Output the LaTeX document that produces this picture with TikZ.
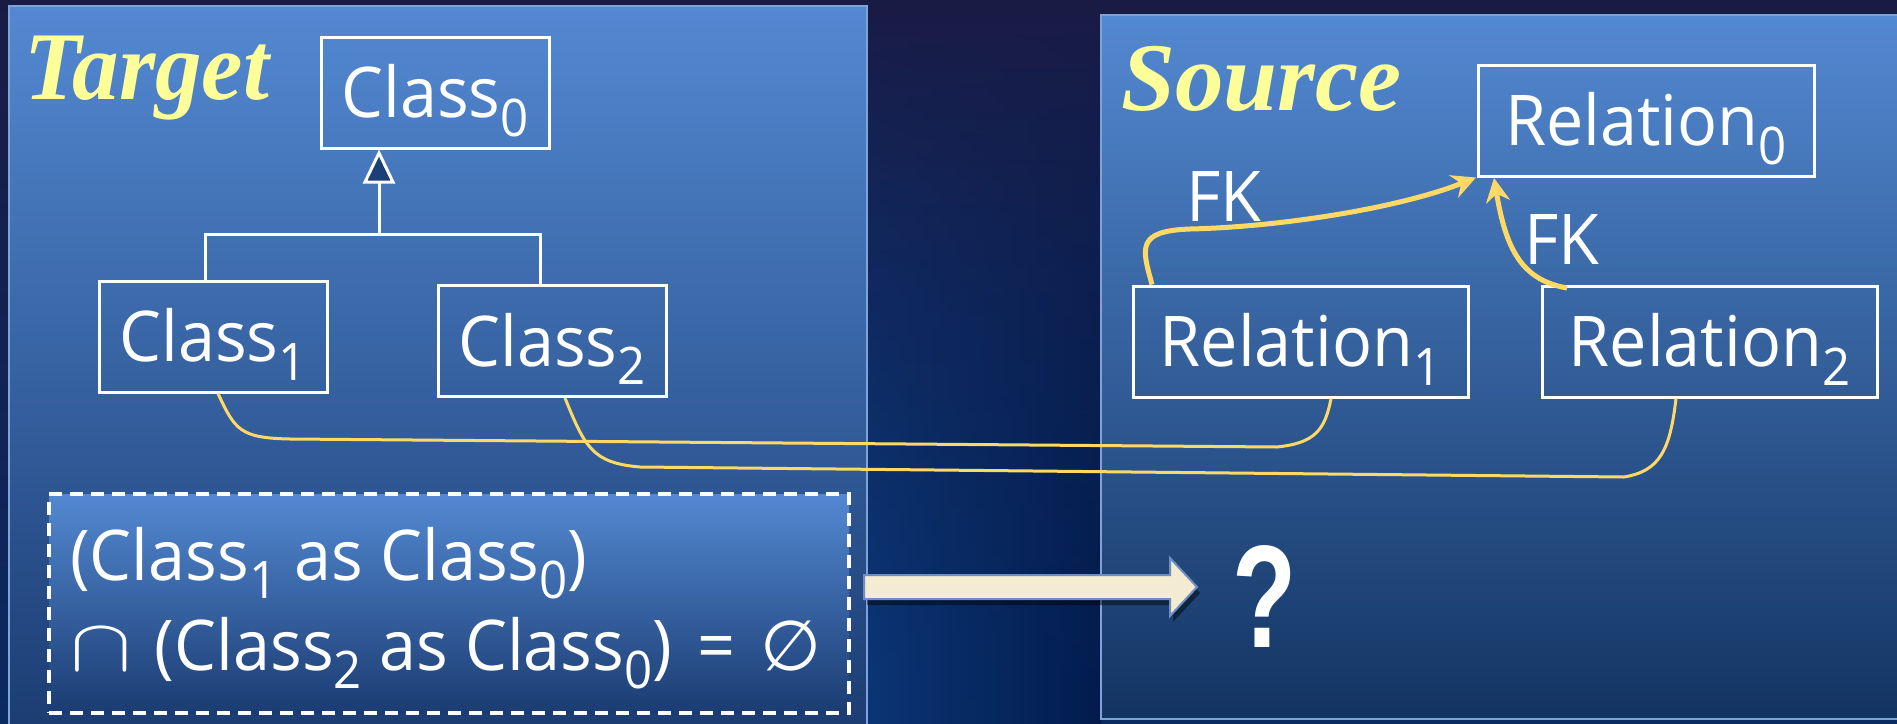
\documentclass[tikz,border=0pt]{standalone}
\usepackage{fontspec}
\setmainfont[FakeStretch=0.95]{Open Sans}
\newfontfamily\symfont{DejaVu Sans}
\newfontfamily\titlefont{Liberation Serif}
\newfontfamily\qfont{Liberation Sans}
\usetikzlibrary{arrows.meta,shadows,fadings}
\definecolor{bgtop}{HTML}{1A1B45}
\definecolor{bgbot}{HTML}{0A2A62}
\definecolor{gapL}{HTML}{0B3676}
\definecolor{gapR}{HTML}{021B4C}
\definecolor{pantop}{HTML}{5389D2}
\definecolor{panbotL}{HTML}{1B3C72}
\definecolor{panbotR}{HTML}{133462}
\definecolor{panedge}{HTML}{7FA3D6}
\definecolor{ttl}{HTML}{FFFF99}
\definecolor{fk}{HTML}{FFD966}
\definecolor{tri}{HTML}{1C3F77}
\definecolor{cream}{HTML}{F3EBD2}
\definecolor{arrb}{HTML}{6F8FC2}
\newcommand{\sbs}[1]{\raisebox{-0.27em}[0pt][0pt]{\scalebox{0.74}{#1}}}
\tikzset{
  panel/.style={draw=panedge, line width=1.5pt},
  cls/.style={draw=white, line width=3pt, inner sep=0pt, text=white,
    minimum height=111pt, font=\fontsize{70}{84}\selectfont,
    text height=50pt, text depth=0pt},
  lbl/.style={text=white, inner sep=0pt, font=\fontsize{70}{84}\selectfont},
  title/.style={text=ttl, inner sep=0pt, anchor=base west,
    font=\titlefont\bfseries\itshape\fontsize{97}{110}\selectfont},
  uml/.style={draw=white, line width=3pt},
  fkarrow/.style={draw=fk, line width=5pt, -{Stealth[length=24pt,width=24pt,inset=8pt]}},
  mapline/.style={draw=fk, line width=3pt},
  dashbox/.style={draw=white, line width=4pt, dash pattern=on 13pt off 8pt,
    top color=pantop, bottom color=panbotL, inner sep=0pt},
  blockarrow/.style={fill=cream, draw=arrb, line width=2pt, line join=miter,
    drop shadow={shadow xshift=3pt, shadow yshift=-6pt, opacity=0.45, fill=black}},
}
\begin{document}
\begin{tikzpicture}[x=1pt,y=-1pt]
\useasboundingbox (0,0) rectangle (1897,723);
% background
\shade[top color=bgtop, bottom color=bgbot] (0,0) rectangle (1897,723);
\shade[left color=gapL, right color=gapR, path fading=north] (867,0) rectangle (1101,723);
% panels
\shade[panel, top color=pantop, bottom color=panbotL] (9,6) rectangle (867,735);
\shade[panel, top color=pantop, bottom color=panbotR] (1101,15) rectangle (1910,719);
% titles
\node[title] (tgt) at (24,99) {\scalebox{0.96}[1]{Target}};
\node[title] (src) at (1121,110) {Source};
% class boxes
\node[cls, minimum width=228pt] (c0) at (435,92.5) {Class\sbs{0}};
\node[cls, minimum width=228pt] (c1) at (213,336.5) {Class\sbs{1}};
\node[cls, minimum width=228pt] (c2) at (552,341) {Class\sbs{2}};
% relation boxes
\node[cls, minimum width=336pt] (r0) at (1646,120.5) {Relation\sbs{0}};
\node[cls, minimum width=335pt] (r1) at (1300.5,341.5) {Relation\sbs{1}};
\node[cls, minimum width=335pt] (r2) at (1709.5,341.5) {Relation\sbs{2}};
% generalization
\coordinate (gj) at (379,234);
\coordinate (g1) at (205,0);
\coordinate (g2) at (540,0);
\draw[uml] (c1.north -| g1) |- (gj) -| (c2.north -| g2);
\draw[uml, -{Triangle[length=34pt,width=32pt,fill=tri]}] (gj) -- (c0.south -| gj);
% FK arrows
\coordinate (fa) at (1152,0);
\coordinate (fe) at (1476,0);
\draw[fkarrow] (r1.north -| fa) .. controls (1142,248) and (1136,231) .. (1190,229)
   .. controls (1280,227) and (1400,208) .. (r0.south west -| fe);
\coordinate (fkb) at (1567,288);
\draw[fkarrow] (fkb) .. controls (1522,280) and (1506,250) .. (1494,178);
\node[lbl, anchor=base] (fk1) at (1224,221) {FK};
\node[lbl, anchor=base] (fk2) at (1562,264) {FK};
% mapping lines
\coordinate (ma) at (218,0);
\coordinate (mb) at (1331,0);
\coordinate (mc) at (565,0);
\coordinate (md) at (1676,0);
\draw[mapline] (c1.south -| ma) .. controls (235,430) and (240,438) .. (290,439)
   -- (1277,447) .. controls (1315,443) and (1325,430) .. (r1.south -| mb);
\draw[mapline] (c2.south -| mc) .. controls (585,447) and (592,463) .. (640,467)
   -- (1624,477) .. controls (1660,471) and (1670,450) .. (r2.south -| md);
% constraint box
\node[dashbox, minimum width=800pt, minimum height=219pt] (db) at (449,603.5) {};
\node[lbl, anchor=base west] (t1) at (70,580) {(Class\sbs{1} as Class\sbs{0})};
\node[lbl, anchor=base west] (t2) at (70,670) {\scalebox{3.7}[3.0]{$\cap$}\hspace{6pt} (Class\sbs{2} as Class\sbs{0})\hspace{8pt} =\hspace{8pt} {\symfont ∅}};
% block arrow and question mark
\coordinate (as) at (864,587);
\coordinate (ae) at (1197,587);
\draw[blockarrow] (as) ++(0,-12) -- ++(306,0) -- ++(0,-17) -- (ae) -- ++(-27,29) -- ++(0,-17) -- ++(-306,0) -- cycle;
\node[text=white, inner sep=0pt, anchor=base, font=\qfont\bfseries\fontsize{146}{150}\selectfont] (q) at (1265,647) {\scalebox{0.72}[1]{?}};
\end{tikzpicture}
\end{document}
